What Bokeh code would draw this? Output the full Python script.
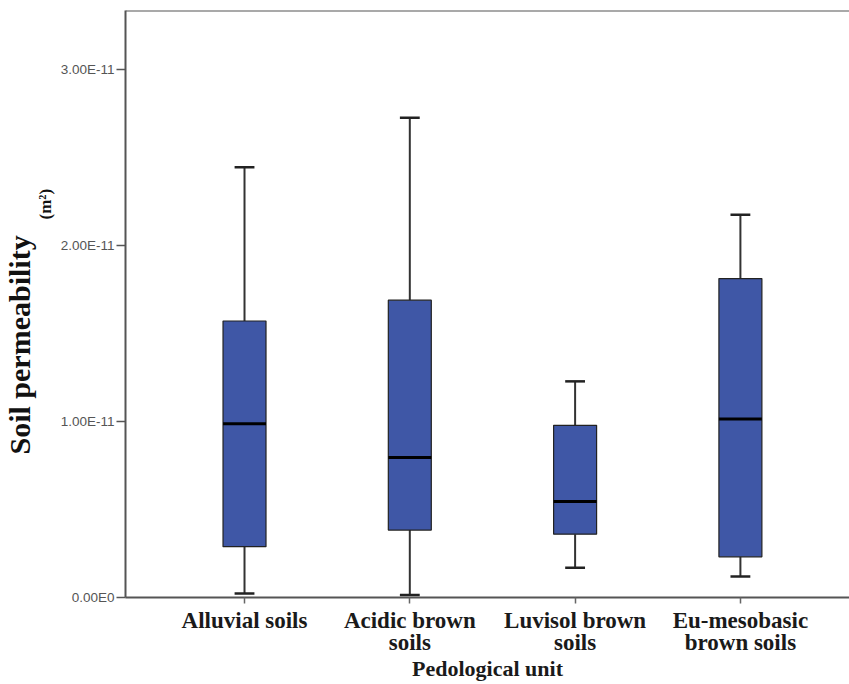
from bokeh.plotting import figure
from bokeh.models import (ColumnDataSource, FixedTicker, CustomJSTickFormatter,
                          Range1d, Span, Title)
from bokeh.embed import file_html
from bokeh.resources import INLINE

# ---- data ----
categories = ["Alluvial soils", "Acidic brown\nsoils", "Luvisol brown\nsoils", "Eu-mesobasic\nbrown soils"]
lower_whisker = [0.023e-11, 0.014e-11, 0.169e-11, 0.120e-11]
q1 = [0.289e-11, 0.383e-11, 0.360e-11, 0.231e-11]
median = [0.987e-11, 0.795e-11, 0.546e-11, 1.014e-11]
q3 = [1.571e-11, 1.689e-11, 0.978e-11, 1.812e-11]
upper_whisker = [2.445e-11, 2.725e-11, 1.228e-11, 2.174e-11]
y_ticks = [0, 1e-11, 2e-11, 3e-11]

# ---- styling ----
BOX_W = 0.26
CAP_W = 0.12
FILL = "#3F57A6"

pos = list(range(len(categories)))
src = ColumnDataSource(dict(
    x=pos, lw=lower_whisker, q1=q1, med=median, q3=q3, uw=upper_whisker,
    xl=[p - BOX_W / 2 for p in pos], xr=[p + BOX_W / 2 for p in pos],
    cl=[p - CAP_W / 2 for p in pos], cr=[p + CAP_W / 2 for p in pos],
))

x_start, x_end = -0.72, 3.66
y_start, y_end = 0.0, 3.335e-11

p = figure(width=849, height=684, output_backend="svg", toolbar_location=None,
           x_range=Range1d(x_start, x_end), y_range=Range1d(y_start, y_end),
           min_border_left=125, min_border_right=0, min_border_top=10, min_border_bottom=85)

p.outline_line_color = None
p.xgrid.visible = False
p.ygrid.visible = False
p.background_fill_color = "white"
p.border_fill_color = "white"

# top border only
p.add_layout(Span(location=y_end, dimension="width", line_color="#555555", line_width=2))

# whiskers
p.segment(x0="x", y0="q3", x1="x", y1="uw", source=src, line_color="#333333", line_width=2)
p.segment(x0="x", y0="lw", x1="x", y1="q1", source=src, line_color="#333333", line_width=2)
p.segment(x0="cl", y0="uw", x1="cr", y1="uw", source=src, line_color="#222222", line_width=2.5)
p.segment(x0="cl", y0="lw", x1="cr", y1="lw", source=src, line_color="#222222", line_width=2.5)
# boxes
p.quad(left="xl", right="xr", bottom="q1", top="q3", source=src,
       fill_color=FILL, line_color="#222222", line_width=1.2)
# medians
p.segment(x0="xl", y0="med", x1="xr", y1="med", source=src, line_color="#000000", line_width=3)

# x axis
xa = p.xaxis[0]
xa.ticker = FixedTicker(ticks=pos)
xa.formatter = CustomJSTickFormatter(args=dict(labels=categories),
                                     code="return labels[Math.round(tick)] || '';")
xa.minor_tick_line_color = None
xa.major_tick_in = 0
xa.major_tick_out = 6
xa.major_tick_line_color = "#666666"
xa.major_tick_line_width = 1.5
xa.axis_line_color = "#555555"
xa.axis_line_width = 2
xa.major_label_text_font = "Liberation Serif"
xa.major_label_text_font_style = "bold"
xa.major_label_text_font_size = "23px"
xa.major_label_text_line_height = 0.9
xa.major_label_text_color = "#1a1a1a"
xa.major_label_standoff = 4
xa.axis_label = "Pedological unit"
xa.axis_label_text_font = "Liberation Serif"
xa.axis_label_text_font_style = "bold"
xa.axis_label_text_font_size = "22px"
xa.axis_label_text_line_height = 0.8
xa.axis_label_text_color = "#1a1a1a"
xa.axis_label_standoff = -2

# y axis
ya = p.yaxis[0]
ya.ticker = FixedTicker(ticks=y_ticks)
ya.formatter = CustomJSTickFormatter(
    code="return tick.toExponential(2).toUpperCase().replace('+', '');")
ya.minor_tick_line_color = None
ya.major_tick_in = 0
ya.major_tick_out = 9
ya.major_tick_line_color = "#555555"
ya.major_tick_line_width = 1.5
ya.axis_line_color = "#555555"
ya.axis_line_width = 2
ya.major_label_text_font = "Liberation Sans"
ya.major_label_text_font_size = "13.5px"
ya.major_label_text_color = "#555555"
ya.major_label_standoff = 2

# y axis title in two sizes, as side titles positioned along the frame
t_unit = Title(text="(m²)", align="left", offset=378, vertical_align="top", standoff=1,
               text_font="Liberation Serif", text_font_style="bold",
               text_font_size="17px", text_color="#111111")
t_main = Title(text="Soil permeability", align="left", offset=143, vertical_align="bottom",
               standoff=0, text_font="Liberation Serif", text_font_style="bold",
               text_font_size="30px", text_color="#111111")
p.add_layout(t_unit, "left")
p.add_layout(t_main, "left")

open("out.html", "w").write(file_html(p, INLINE))
